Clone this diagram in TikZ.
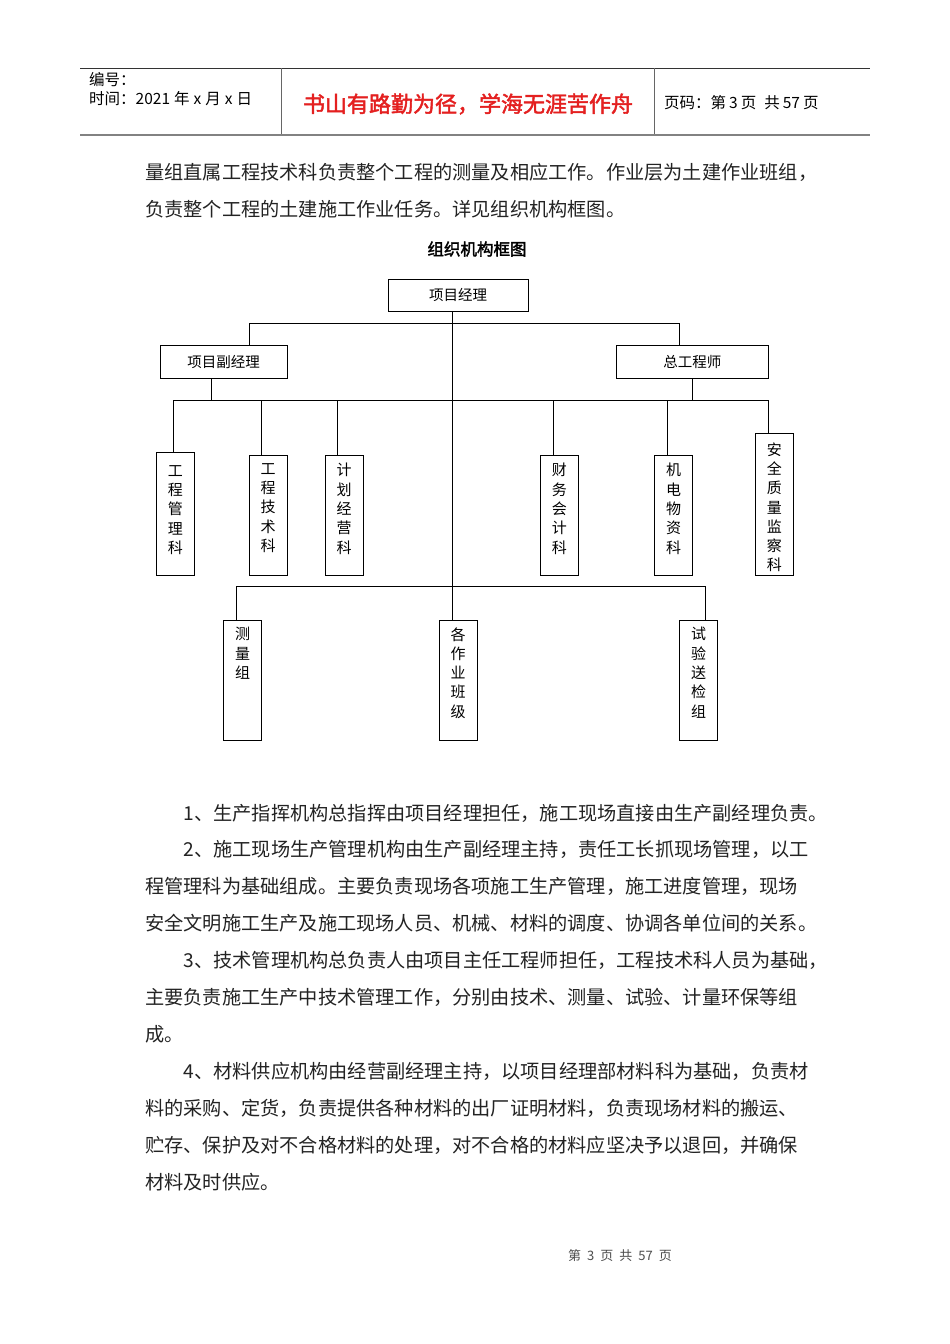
\documentclass[tikz,border=0pt]{standalone}
\usepackage{fontspec}
\setmainfont{Noto Sans CJK SC}[AutoFakeBold=2]
\definecolor{mottored}{RGB}{228,32,32}
\definecolor{rulegray}{RGB}{130,130,130}
\definecolor{bodyink}{RGB}{35,35,35}
\newcommand{\colbox}[3]{\parbox[c][#1pt][t]{30pt}{\centering\fontsize{15}{19.3}\selectfont\vspace*{#2pt}#3}}

\begin{document}
\begin{tikzpicture}[x=1pt,y=-1pt,
  box/.style={draw, line width=0.9pt, inner sep=0pt, minimum height=32.6pt, font=\fontsize{14.5}{17}\selectfont},
  col/.style={draw, line width=0.9pt, inner sep=0pt, minimum width=38pt},
  link/.style={line width=0.9pt},
  head/.style={anchor=west, inner sep=0pt, font=\fontsize{15.5}{18}\selectfont},
  body/.style={anchor=west, inner sep=0pt, font=\fontsize{19.2}{23}\selectfont, text=bodyink}]
\useasboundingbox[fill=white] (0,0) rectangle (950,1344);

\draw[line width=0.8pt, black!80] (80,68) -- (870,68);
\draw[line width=2pt, rulegray] (80,135) -- (870,135);
\draw[line width=0.8pt, black!60] (281,68) -- (281,134);
\draw[line width=0.8pt, black!60] (654,68) -- (654,134);
\node[head] (num) at (89,80) {编号：};
\node[head] (date) at (89,99) {时间：2021\hspace{4pt}年\hspace{4pt}x\hspace{4pt}月\hspace{4pt}x\hspace{4pt}日};
\node[inner sep=0pt, font=\fontsize{22}{26}\selectfont\bfseries, text=mottored] (motto) at (468,104) {书山有路勤为径，学海无涯苦作舟};
\node[head] (pageno) at (664,103) {页码：第\hspace{3pt}3\hspace{3pt}页\hspace{8pt}共\hspace{3pt}57\hspace{3pt}页};

\node[body] (t1) at (145,172) {量组直属工程技术科负责整个工程的测量及相应工作。作业层为土建作业班组，};
\node[body] (t2) at (145,209) {负责整个工程的土建施工作业任务。详见组织机构框图。};
\node[inner sep=0pt, font=\fontsize{16.5}{20}\selectfont\bfseries] (title) at (477,249) {组织机构框图};

\node[box, minimum width=140pt] (pm) at (458,295.3) {项目经理};
\node[box, minimum width=126.7pt] (dpm) at (223.7,362) {项目副经理};
\node[box, minimum width=152pt] (ce) at (692.3,362) {总工程师};

\node[col] (d1) at (175.3,514) {\colbox{123.4}{13}{工\\程\\管\\理\\科}};
\node[col] (d2) at (268,515.5) {\colbox{120.4}{8}{工\\程\\技\\术\\科}};
\node[col] (d3) at (344,515.5) {\colbox{120.4}{8}{计\\划\\经\\营\\科}};
\node[col] (d4) at (559.3,515.5) {\colbox{120.4}{8}{财\\务\\会\\计\\科}};
\node[col] (d5) at (673.5,515.5) {\colbox{120.4}{8}{机\\电\\物\\资\\科}};
\node[col] (d6) at (774.4,504.4) {\colbox{142.7}{9.5}{安\\全\\质\\量\\监\\察\\科}};

\node[col] (g1) at (242.7,680.3) {\colbox{120}{7}{测\\量\\组}};
\node[col] (g2) at (458,680.3) {\colbox{120}{7}{各\\作\\业\\班\\级}};
\node[col] (g3) at (698.7,680.3) {\colbox{120}{7}{试\\验\\送\\检\\组}};

\coordinate (ta) at (249,323.5);
\coordinate (tb) at (679.5,323.5);
\coordinate (trunk) at (452,400.3);
\coordinate (ma) at (173.5,400.3);
\coordinate (mb) at (768.3,400.3);
\coordinate (ja) at (211,400.3);
\coordinate (jb) at (692.3,400.3);
\coordinate (j2) at (261.7,400.3);
\coordinate (j3) at (337.7,400.3);
\coordinate (j4) at (553,400.3);
\coordinate (j5) at (667.3,400.3);
\coordinate (ba) at (236,586);
\coordinate (bb) at (705.3,586);

\draw[link] (dpm.north -| ta) -- (ta) -- (tb) -- (ce.north -| tb);
\draw[link] (pm.south -| trunk) -- (g2.north -| trunk);
\draw[link] (dpm.south -| ja) -- (ja);
\draw[link] (ce.south -| jb) -- (jb);
\draw[link] (ma) -- (mb);
\draw[link] (ma) -- (d1.north -| ma);
\draw[link] (j2) -- (d2.north -| j2);
\draw[link] (j3) -- (d3.north -| j3);
\draw[link] (j4) -- (d4.north -| j4);
\draw[link] (j5) -- (d5.north -| j5);
\draw[link] (mb) -- (d6.north -| mb);
\draw[link] (g1.north -| ba) -- (ba) -- (bb) -- (g3.north -| bb);

\node[body] (p1) at (183.5,813) {1、生产指挥机构总指挥由项目经理担任，施工现场直接由生产副经理负责。};
\node[body] (p2) at (183.5,849) {2、施工现场生产管理机构由生产副经理主持，责任工长抓现场管理，以工};
\node[body] (p3) at (145,886) {程管理科为基础组成。主要负责现场各项施工生产管理，施工进度管理，现场};
\node[body] (p4) at (145,923) {安全文明施工生产及施工现场人员、机械、材料的调度、协调各单位间的关系。};
\node[body] (p5) at (183.5,960) {3、技术管理机构总负责人由项目主任工程师担任，工程技术科人员为基础，};
\node[body] (p6) at (145,997) {主要负责施工生产中技术管理工作，分别由技术、测量、试验、计量环保等组};
\node[body] (p7) at (145,1034) {成。};
\node[body] (p8) at (183.5,1071) {4、材料供应机构由经营副经理主持，以项目经理部材料科为基础，负责材};
\node[body] (p9) at (145,1108) {料的采购、定货，负责提供各种材料的出厂证明材料，负责现场材料的搬运、};
\node[body] (p10) at (145,1145) {贮存、保护及对不合格材料的处理，对不合格的材料应坚决予以退回，并确保};
\node[body] (p11) at (145,1182) {材料及时供应。};

\node[inner sep=0pt, font=\fontsize{13}{16}\selectfont, text=black!70] (foot) at (620,1256) {第\hspace{6pt}3\hspace{6pt}页\hspace{6pt}共\hspace{6pt}57\hspace{6pt}页};
\end{tikzpicture}
\end{document}
